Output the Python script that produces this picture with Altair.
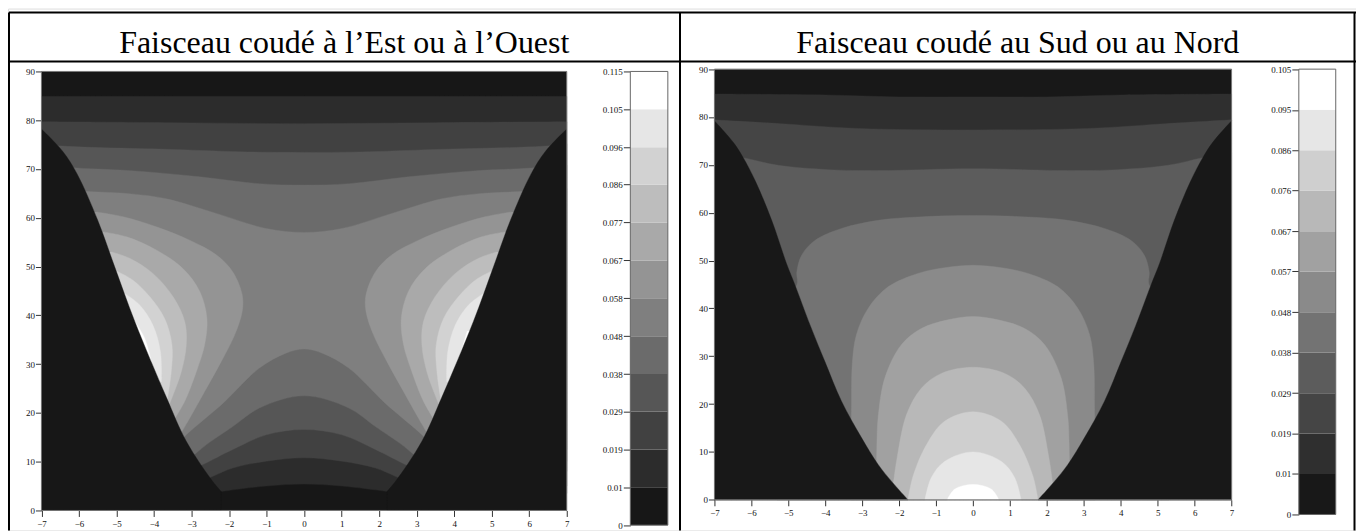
import altair as alt
import pandas as pd

W, H = 1351, 523
X_TICKS = [-7, -6, -5, -4, -3, -2, -1, 0, 1, 2, 3, 4, 5, 6, 7]
Y_TICKS = [0, 10, 20, 30, 40, 50, 60, 70, 80, 90]

TITLES = ["Faisceau coudé à l’Est ou à l’Ouest", "Faisceau coudé au Sud ou au Nord"]

COLORS_L = ["#171717", "#2c2c2c", "#414141", "#565656", "#6b6b6b", "#7f7f7f", "#949494", "#a9a9a9", "#bdbdbd", "#d2d2d2", "#e6e6e6", "#ffffff"]
COLORS_R = ["#181818", "#2f2f2f", "#454545", "#5c5c5c", "#737373", "#8a8a8a", "#a1a1a1", "#b8b8b8", "#cfcfcf", "#e6e6e6", "#ffffff"]
EDGES_L = [0, 0.0096, 0.0192, 0.0288, 0.0383, 0.0479, 0.05751, 0.0671, 0.0767, 0.0863, 0.0958, 0.1054, 0.115]
EDGES_R = [0, 0.00955, 0.0191, 0.0286, 0.0382, 0.0477, 0.0573, 0.0668, 0.0764, 0.0859, 0.0954, 0.105]

# ---- left panel: contour curves, left half (x<=0), mirrored for the right half
L_UPPER = {
    1: [(-7, 84.9), (-3.5, 84.9), (0, 84.9)],
    2: [(-7, 79.7), (-3.5, 79.5), (0, 79.3)],
    3: [(-7, 75.2), (-6.43, 74.7), (-3.5, 74.0), (-1.5, 73.5), (0, 73.4)],
    4: [(-7, 70.8), (-6.05, 70.2), (-4.5, 69.6), (-2.78, 68.4), (-1.2, 67.0), (0, 66.7)],
    5: [(-7, 66.0), (-5.79, 65.4), (-4.6, 64.9), (-3.67, 63.9), (-2.34, 60.9), (-1.01, 57.8), (0, 57.0)],
}
L_LOWER = {
    1: [(-2.6, 3.5), (-2.21, 3.9), (-1.01, 5.0), (0, 5.4)],
    2: [(-3.0, 5.0), (-2.43, 7.0), (-1.9, 8.7), (-1.01, 10.1), (0, 10.8)],
    3: [(-3.1, 8.0), (-2.7, 9.4), (-1.9, 12.5), (-1.01, 15.5), (0, 16.6)],
    4: [(-3.2, 10.0), (-2.87, 11.8), (-2.6, 13.5), (-1.9, 17.2), (-1.19, 21.0), (0, 23.5)],
    5: [(-3.5, 12.5), (-3.14, 15.5), (-2.16, 22.0), (-1.19, 29.2), (-0.5, 32.2), (0, 33.1)],
}
L_LOBES = {
    6: [(-5.53, 61.2), (-4.82, 60.2), (-3.94, 58.15), (-3.05, 55.4), (-2.34, 52.4), (-1.9, 48.9), (-1.65, 44.2), (-1.65, 40.8), (-1.85, 36.0), (-2.21, 30.5), (-2.65, 24.4), (-3.05, 18.9), (-3.33, 15.2)],
    7: [(-5.36, 57.1), (-4.73, 56.1), (-3.94, 53.4), (-3.23, 49.6), (-2.78, 44.9), (-2.59, 39.4), (-2.65, 34.0), (-2.87, 28.5), (-3.18, 22.4), (-3.49, 18.3)],
    8: [(-5.13, 53.0), (-4.65, 51.7), (-4.03, 48.6), (-3.49, 43.8), (-3.18, 38.7), (-3.14, 33.9), (-3.27, 28.5), (-3.49, 23.7), (-3.63, 21.0)],
    9: [(-5.0, 49.1), (-4.56, 47.2), (-4.11, 43.8), (-3.72, 39.4), (-3.52, 33.9), (-3.54, 28.5), (-3.65, 22.4)],
    10: [(-4.78, 44.5), (-4.38, 42.1), (-4.03, 38.0), (-3.83, 32.6), (-3.80, 26.4)],
    11: [(-4.51, 38.7), (-4.25, 35.3), (-4.07, 30.5)],
}
L_WHITE_RIGHT = [(4.35, 36.8), (4.22, 33.5), (4.12, 31.0)]
L_WEDGE = [(-7, 78.2), (-6.43, 73.6), (-6.05, 69.0), (-5.5, 59.5), (-5.05, 50.0), (-4.51, 38.7), (-3.67, 23.2), (-3.14, 14.2), (-2.44, 6.0), (-2.21, 3.9)]

# ---- right panel
R_UPPER = {
    1: [(-7, 84.8), (-4, 84.6), (-2, 84.2), (0, 84.2)],
    2: [(-7, 79.4), (-5.2, 78.6), (-3.1, 77.6), (0, 77.3)],
    3: [(-7, 72.6), (-6.22, 71.5), (-5.27, 69.9), (-3.92, 69.0), (-2.57, 68.8), (0, 69.2)],
    4: [(-5.3, 41.0), (-4.77, 44.9), (-4.77, 47.6), (-4.64, 51.1), (-4.28, 54.2), (-3.56, 56.7), (-2.57, 58.4), (-1.49, 59.1), (0, 59.4)],
    5: [(-3.31, 10.0), (-3.29, 18.5), (-3.27, 28.2), (-3.16, 34.4), (-2.84, 40.0), (-2.3, 44.5), (-1.49, 47.3), (-0.77, 48.5), (0, 49.0)],
    6: [(-2.63, 4.0), (-2.61, 8.4), (-2.6, 12.2), (-2.57, 17.1), (-2.39, 25.4), (-1.94, 32.4), (-1.4, 35.8), (-0.68, 37.6), (0, 38.3)],
    7: [(-2.2, 0), (-2.17, 2.5), (-2.05, 9.0), (-1.8, 17.8), (-1.4, 23.3), (-0.86, 26.4), (0, 27.7)],
    8: [(-1.76, 0), (-1.62, 5.0), (-1.26, 11.5), (-0.77, 16.4), (0, 18.4)],
    9: [(-1.3, 0), (-1.13, 4.6), (-0.77, 8.0), (0, 10.0)],
    10: [(-0.7, 0), (-0.5, 2.2), (0, 3.2)],
}
R_WEDGE = [(-7, 79.2), (-6.49, 74.7), (-6.22, 71.5), (-5.88, 66.4), (-5.45, 58.4), (-5.05, 49.4), (-4.82, 44.9), (-4.41, 36.5), (-4.01, 28.9), (-3.56, 20.6), (-3.02, 13.0), (-2.57, 7.4), (-2.21, 3.9), (-1.76, 0)]

# ---- pixel placement, canvas coordinates (page position minus the 8px margin)
PANEL_L = dict(x=[33.5, 560], y=[503, 63], cx=[623.7, 661.3], cy=[517.7, 63])
PANEL_R = dict(x=[708, 1226.3], y=[492.3, 60.7], cx=[1293.7, 1330.7], cy=[507, 60.7])


def mirror(curve):
    return [(-x, y) for x, y in reversed(curve) if x != 0]


def whole(curve):
    return curve + mirror(curve)


def sharp(curve):
    return [curve[0]] + curve + [curve[-1]]


def polygon(panel, pts, color, interp="catmull-rom"):
    df = pd.DataFrame(pts, columns=["x", "y"])
    df["i"] = range(len(df))
    return alt.Chart(df).mark_line(fill=color, stroke=color, strokeWidth=0.4, interpolate=interp).encode(
        x=alt.X("x:Q", axis=None, scale=alt.Scale(domain=[-7, 7], range=panel["x"], nice=False, zero=False)),
        y=alt.Y("y:Q", axis=None, scale=alt.Scale(domain=[0, 90], range=panel["y"], nice=False, zero=False)),
        order="i:Q",
    )


def plot_frame(panel):
    df = pd.DataFrame({"x": [-7], "x2": [7], "y": [0], "y2": [90]})
    return alt.Chart(df).mark_rect(fill=None, stroke="#777777", strokeWidth=1).encode(
        x=alt.X("x:Q", scale=alt.Scale(domain=[-7, 7], range=panel["x"], nice=False, zero=False),
                axis=alt.Axis(orient="bottom", values=X_TICKS, format="d", offset=panel["y"][0] - H, title=None, grid=False,
                              labelFont="Liberation Serif", labelFontSize=9, labelColor="#111111", tickSize=6, tickColor="#333333",
                              domain=False, labelPadding=3, labelFlush=False, labelOverlap=False)),
        x2="x2:Q",
        y=alt.Y("y:Q", scale=alt.Scale(domain=[0, 90], range=panel["y"], nice=False, zero=False),
                axis=alt.Axis(orient="left", values=Y_TICKS, format="d", offset=-panel["x"][0], title=None, grid=False,
                              labelFont="Liberation Serif", labelFontSize=9, labelColor="#111111", tickSize=6, tickColor="#333333",
                              domain=False, labelPadding=1, labelOverlap=False)),
        y2="y2:Q",
    )


def background(panel, color):
    df = pd.DataFrame({"x": [-7], "x2": [7], "y": [0], "y2": [90]})
    return alt.Chart(df).mark_rect(fill=color).encode(
        x=alt.X("x:Q", axis=None, scale=alt.Scale(domain=[-7, 7], range=panel["x"], nice=False, zero=False)),
        x2="x2:Q",
        y=alt.Y("y:Q", axis=None, scale=alt.Scale(domain=[0, 90], range=panel["y"], nice=False, zero=False)),
        y2="y2:Q",
    )


def colorbar(panel, edges, colors):
    df = pd.DataFrame({"lo": edges[:-1], "hi": edges[1:], "c": colors, "a": [0] * len(colors), "b": [1] * len(colors)})
    yscale = alt.Scale(domain=[0, edges[-1]], range=panel["cy"], nice=False, zero=False)
    xscale = alt.Scale(domain=[0, 1], range=panel["cx"], nice=False, zero=False)
    cells = alt.Chart(df).mark_rect().encode(
        x=alt.X("a:Q", axis=None, scale=xscale),
        x2="b:Q",
        y=alt.Y("lo:Q", scale=yscale,
                axis=alt.Axis(orient="left", values=edges, format=".3~f", offset=-panel["cx"][0], title=None, grid=False,
                              labelFont="Liberation Serif", labelFontSize=9, labelColor="#111111", tickSize=7, tickColor="#333333",
                              domain=False, labelPadding=1, labelOverlap=False)),
        y2="hi:Q",
        fill=alt.Fill("c:N", scale=None, legend=None),
    )
    box = pd.DataFrame({"a": [0], "b": [1], "lo": [0], "hi": [edges[-1]]})
    outline = alt.Chart(box).mark_rect(fill=None, stroke="#666666", strokeWidth=1).encode(
        x=alt.X("a:Q", axis=None, scale=xscale),
        x2="b:Q",
        y=alt.Y("lo:Q", axis=None, scale=yscale),
        y2="hi:Q",
    )
    return [cells, outline]


layers = []

# left panel, painted from the lowest level to the highest, the out-of-range wedges last
p = PANEL_L
layers.append(background(p, COLORS_L[0]))
for k in range(1, 6):
    up = whole(L_UPPER[k])
    lo = whole(L_LOWER[k])[::-1]
    y_end = L_LOWER[k][0][1]
    pts = sharp(up) + [(7, y_end)] * 3 + sharp(lo) + [(-7, y_end)] * 3
    layers.append(polygon(p, pts, COLORS_L[k]))
for k in range(6, 12):
    lobe = L_LOBES[k]
    pts = sharp(lobe) + [(-6.2, lobe[-1][1])] * 3 + [(-6.2, lobe[0][1])] * 3
    layers.append(polygon(p, pts, COLORS_L[k]))
    lobe_r = L_WHITE_RIGHT if k == 11 else [(-x, y) for x, y in lobe]
    pts = sharp(lobe_r) + [(6.2, lobe_r[-1][1])] * 3 + [(6.2, lobe_r[0][1])] * 3
    layers.append(polygon(p, pts, COLORS_L[k]))
wl = sharp(L_WEDGE) + [(L_WEDGE[-1][0], 0)] * 3 + [(-7, 0)] * 3
layers.append(polygon(p, wl, COLORS_L[0]))
layers.append(polygon(p, [(-x, y) for x, y in wl], COLORS_L[0]))
layers.append(plot_frame(p))
layers += colorbar(p, EDGES_L, COLORS_L)

# right panel
p = PANEL_R
layers.append(background(p, COLORS_R[0]))
for k in range(1, 4):
    pts = sharp(whole(R_UPPER[k])) + [(7, 0)] * 3 + [(-7, 0)] * 3
    layers.append(polygon(p, pts, COLORS_R[k]))
for k in range(4, 11):
    c = whole(R_UPPER[k])
    pts = sharp(c) + [(c[-1][0], 0)] * 3 + [(c[0][0], 0)] * 3
    layers.append(polygon(p, pts, COLORS_R[k]))
wr = sharp(R_WEDGE) + [(-7, 0)] * 3
layers.append(polygon(p, wr, COLORS_R[0]))
layers.append(polygon(p, [(-x, y) for x, y in wr], COLORS_R[0]))
layers.append(plot_frame(p))
layers += colorbar(p, EDGES_R, COLORS_R)

# table rules and headings
RULES = [(1, 4, H), (673.5, 4, H), (1349.5, 4, H)]
HRULES = [(4, 1, 1351), (53, 1, 1351)]
for xv, y0, y1 in RULES:
    layers.append(alt.Chart(pd.DataFrame({"a": [0]})).mark_rule(color="black", strokeWidth=2).encode(
        x=alt.value(xv), y=alt.value(y0), y2=alt.value(y1)))
for yv, x0, x1 in HRULES:
    layers.append(alt.Chart(pd.DataFrame({"a": [0]})).mark_rule(color="black", strokeWidth=2).encode(
        y=alt.value(yv), x=alt.value(x0), x2=alt.value(x1)))
for cx, t in zip([337, 1012], TITLES):
    layers.append(alt.Chart(pd.DataFrame({"t": [t]})).mark_text(
        font="Liberation Serif", fontSize=32, color="black", baseline="alphabetic", align="center").encode(
        x=alt.value(cx), y=alt.value(45), text="t:N"))

chart = alt.layer(*layers).resolve_scale(x="independent", y="independent").resolve_axis(x="independent", y="independent").properties(
    width=W, height=H, padding=0, autosize=alt.AutoSizeParams(type="none"),
).configure_view(stroke=None).configure(background="white")

chart.save("out.html", embed_options={"renderer": "svg", "actions": False})
